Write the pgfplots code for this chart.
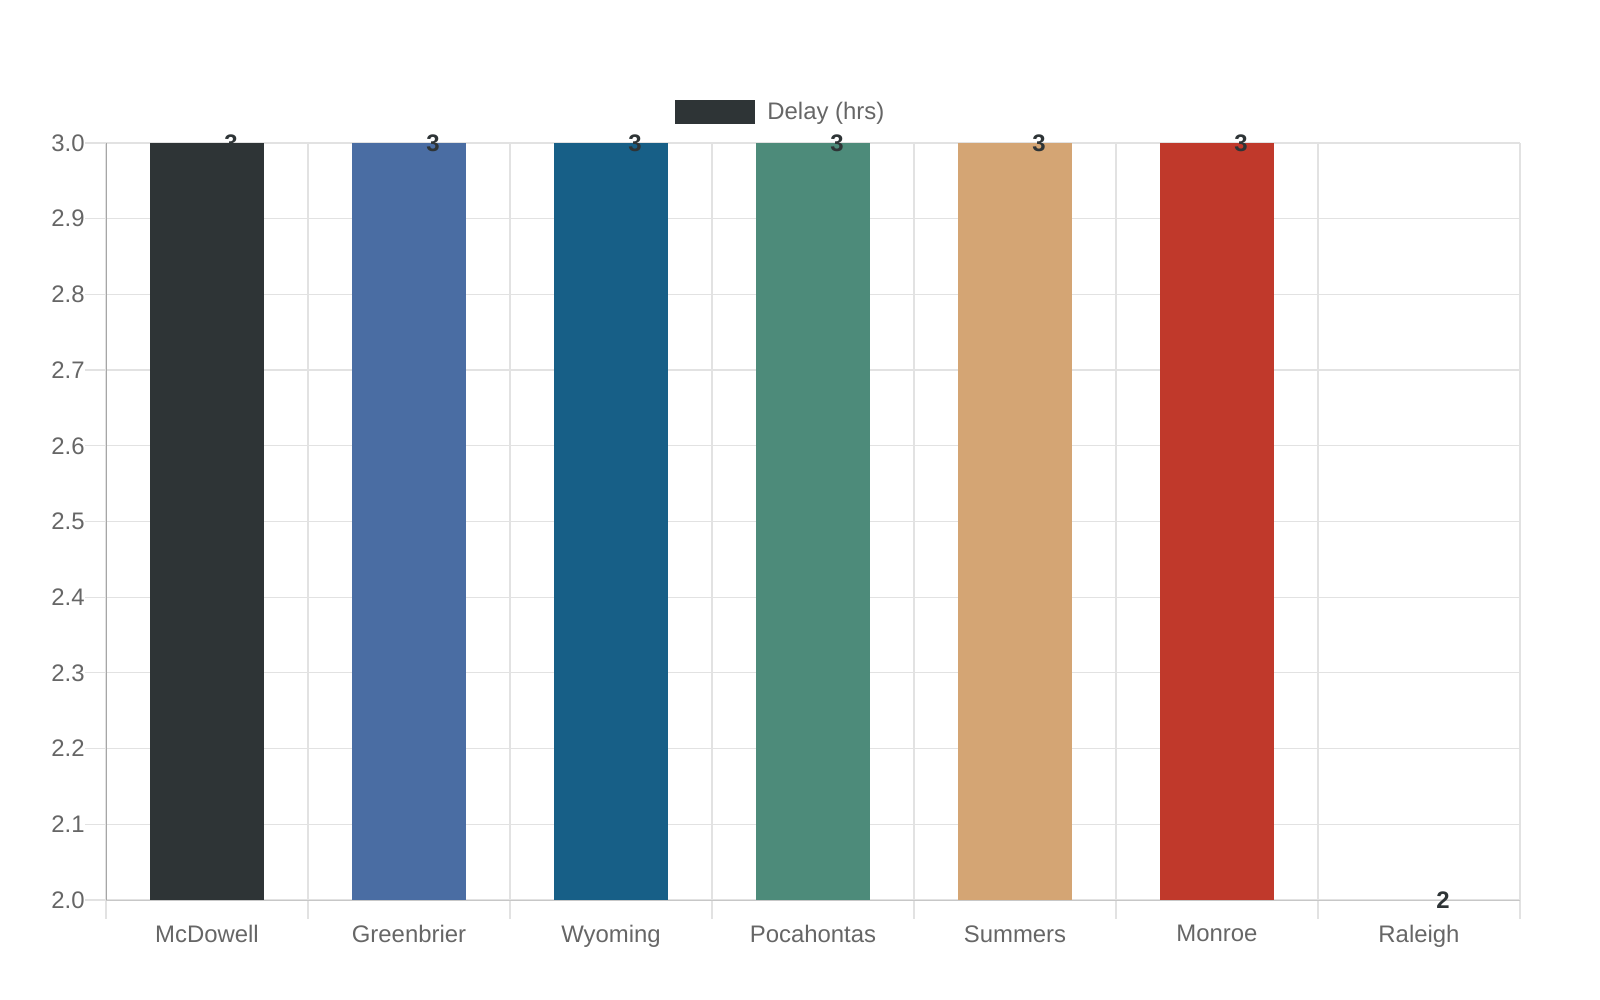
\documentclass[border=0pt]{standalone}
\usepackage{fontspec}
\setmainfont{Liberation Sans}
\usepackage{pgfplots}
\pgfplotsset{compat=1.18}

\definecolor{cDark}{HTML}{2E3436}
\definecolor{cBlue}{HTML}{4A6DA3}
\definecolor{cNavy}{HTML}{175F87}
\definecolor{cTeal}{HTML}{4D8B7A}
\definecolor{cSand}{HTML}{D4A574}
\definecolor{cRed}{HTML}{C0392B}
\definecolor{tickgray}{HTML}{666666}
\definecolor{gridgray}{HTML}{E2E2E2}

\begin{document}
\begin{tikzpicture}
	\path[use as bounding box] (0,0) rectangle (800bp,500bp);
	\begin{axis}[
			at={(53bp,50bp)}, anchor=south west,
			scale only axis,
			width=707bp, height=378.5bp,
			xmin=-0.5, xmax=6.5,
			ymin=2, ymax=3,
			xtick={0,1,2,3,4,5,6},
			xticklabels={McDowell,Greenbrier,Wyoming,Pocahontas,Summers,Monroe,Raleigh},
			minor xtick={-0.5,0.5,1.5,2.5,3.5,4.5,5.5,6.5},
			ytick={2,2.1,2.2,2.3,2.4,2.5,2.6,2.7,2.8,2.9,3},
			yticklabel style={/pgf/number format/fixed,
				/pgf/number format/fixed zerofill,
				/pgf/number format/precision=1},
			/pgf/number format/assume math mode=true,
			axis x line=bottom, axis y line=left,
			axis line style={-},
			x axis line style={draw=black!22},
			y axis line style={draw=black!35},
			tick align=outside,
			major tick length=10.5bp,
			minor tick length=9.5bp,
			major x tick style={draw=none},
			minor x tick style={draw=gridgray, line width=0.6bp},
			major y tick style={draw=gridgray, line width=0.6bp},
			ymajorgrids=true,
			xminorgrids=true,
			grid style={draw=gridgray, line width=0.6bp},
			minor grid style={draw=gridgray, line width=0.6bp},
			tick label style={font=\fontsize{12}{14}\selectfont, text=tickgray},
			yticklabel style={inner sep=0pt, xshift=0bp},
			xticklabel style={inner sep=0pt, yshift=-2bp},
			ybar, bar width=0.56,
			clip mode=individual,
			nodes near coords,
			nodes near coords style={anchor=center, xshift=12bp,
				font=\fontsize{12}{14}\selectfont\bfseries, text=cDark},
			legend style={at={(0.4780,1.041)}, anchor=center, draw=none, fill=none,
				font=\fontsize{12}{14}\selectfont, text=tickgray,
				inner sep=0pt, column sep=4bp},
			legend image code/.code={\fill[#1, draw=none] (0bp,-6bp) rectangle (40bp,6bp);},
		]
		\addplot[fill=cDark, draw=none, bar shift=0pt] coordinates {(0,3)};
		\addlegendentry{Delay (hrs)}
		\addplot[fill=cBlue, draw=none, bar shift=0pt, forget plot] coordinates {(1,3)};
		\addplot[fill=cNavy, draw=none, bar shift=0pt, forget plot] coordinates {(2,3)};
		\addplot[fill=cTeal, draw=none, bar shift=0pt, forget plot] coordinates {(3,3)};
		\addplot[fill=cSand, draw=none, bar shift=0pt, forget plot] coordinates {(4,3)};
		\addplot[fill=cRed, draw=none, bar shift=0pt, forget plot] coordinates {(5,3)};
		\addplot[fill=none, draw=none, bar shift=0pt, forget plot] coordinates {(6,2)};
	\end{axis}
\end{tikzpicture}
\end{document}
